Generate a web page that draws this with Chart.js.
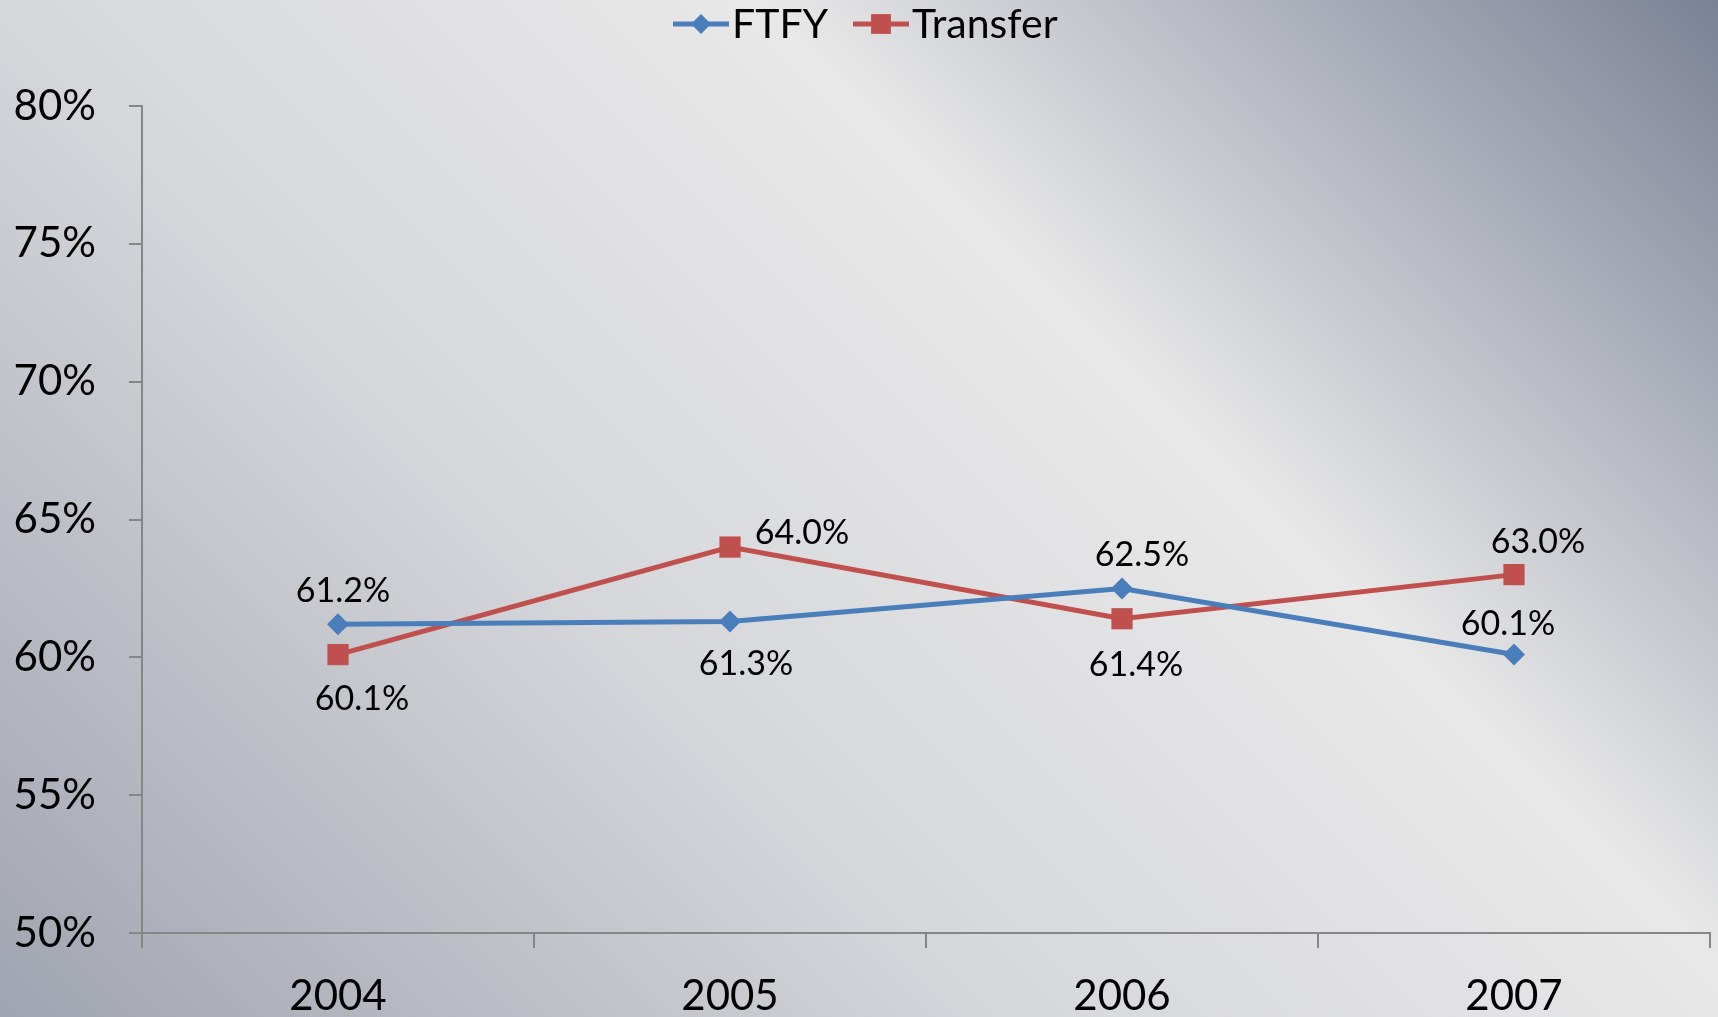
<!DOCTYPE html>
<html>
<head>
<meta charset="utf-8">
<script src="https://cdn.jsdelivr.net/npm/chart.js@4"></script>
<style>
  html, body { margin: 0; padding: 0; overflow: hidden; }
  #wrap { width: 1718px; height: 1017px; }
  canvas { display: block; }
</style>
</head>
<body>
<div id="wrap"><canvas id="chart"></canvas></div>
<script>
// chart data
var years = ['2004', '2005', '2006', '2007'];
var ftfyValues = [0.612, 0.613, 0.625, 0.601];
var transferValues = [0.601, 0.640, 0.614, 0.630];
var yTicks = [0.50, 0.55, 0.60, 0.65, 0.70, 0.75, 0.80];

var FONT = 'Lato, "Open Sans", sans-serif';
var BLUE = '#4a7ebb', RED = '#c0504d';

// label offsets (px) from each point, per series
var labelOffsets = [
  [[5, -33], [16, 43], [20, -33], [-6, -31]],
  [[24, 44], [72, -14], [14, 46], [24, -33]]
];

// gray office-style background
var bgPlugin = {
  id: 'bg',
  beforeDraw: function(chart){
    var ctx = chart.ctx, w = chart.width, h = chart.height;
    var g = ctx.createLinearGradient(0, h, 1367, -350);
    g.addColorStop(0, '#a0a4b0');
    g.addColorStop(0.37, '#d6d7db');
    g.addColorStop(0.65, '#e8e8e8');
    g.addColorStop(1, '#7b8296');
    ctx.save();
    ctx.fillStyle = g;
    ctx.fillRect(0, 0, w, h);
    ctx.restore();
  }
};

// value labels next to points
var labelPlugin = {
  id: 'vlabels',
  afterDatasetsDraw: function(chart){
    var ctx = chart.ctx;
    ctx.save();
    ctx.font = '34px ' + FONT;
    ctx.fillStyle = '#000';
    ctx.textAlign = 'center';
    ctx.textBaseline = 'middle';
    chart.data.datasets.forEach(function(ds, i){
      chart.getDatasetMeta(i).data.forEach(function(pt, j){
        var off = labelOffsets[i][j];
        ctx.fillText((ds.data[j]*100).toFixed(1) + '%', pt.x + off[0], pt.y + off[1]);
      });
    });
    ctx.restore();
  }
};

// legend with line + marker
var legendPlugin = {
  id: 'lineLegend',
  afterDraw: function(chart){
    var ctx = chart.ctx;
    var items = [
      {x: 673, color: BLUE, style: 'rectRot', r: 10, text: chart.data.datasets[0].label},
      {x: 853, color: RED, style: 'rect', r: 14, text: chart.data.datasets[1].label}
    ];
    var y = 24;
    ctx.save();
    ctx.font = '41px ' + FONT;
    ctx.textBaseline = 'middle';
    ctx.textAlign = 'left';
    items.forEach(function(it){
      ctx.strokeStyle = it.color;
      ctx.lineWidth = 5;
      ctx.beginPath();
      ctx.moveTo(it.x, y);
      ctx.lineTo(it.x + 56, y);
      ctx.stroke();
      ctx.fillStyle = it.color;
      Chart.helpers.drawPoint(ctx, {pointStyle: it.style, radius: it.r, borderWidth: 0}, it.x + 28, y);
      ctx.fillStyle = '#000';
      ctx.fillText(it.text, it.x + 59, y + 1);
    });
    ctx.restore();
  }
};

new Chart(document.getElementById('chart'), {
  type: 'line',
  data: {
    labels: years,
    datasets: [
      {label: 'FTFY', data: ftfyValues, borderColor: BLUE, backgroundColor: BLUE,
       borderWidth: 5, pointStyle: 'rectRot', pointRadius: 11, pointBorderWidth: 0, tension: 0},
      {label: 'Transfer', data: transferValues, borderColor: RED, backgroundColor: RED,
       borderWidth: 5, pointStyle: 'rect', pointRadius: 15, pointBorderWidth: 0, tension: 0}
    ]
  },
  options: {
    responsive: true,
    maintainAspectRatio: false,
    animation: false,
    layout: {autoPadding: false, padding: {top: 106, right: 8, left: 0, bottom: 0}},
    plugins: {legend: {display: false}, tooltip: {enabled: false}},
    scales: {
      x: {
        offset: true,
        grid: {offset: true, drawOnChartArea: false, drawTicks: true, tickLength: 15, color: '#868686', lineWidth: 2},
        border: {color: '#868686', width: 2},
        ticks: {font: {family: FONT, size: 42}, color: '#000', padding: 23},
        afterFit: function(s){ s.height = 84; s.paddingLeft = 0; s.paddingRight = 0; }
      },
      y: {
        min: 0.5, max: 0.8,
        afterBuildTicks: function(s){ s.ticks = yTicks.map(function(v){ return {value: v}; }); },
        grid: {drawOnChartArea: false, drawTicks: true, tickLength: 13, color: '#868686', lineWidth: 2},
        border: {color: '#868686', width: 2},
        ticks: {font: {family: FONT, size: 42}, color: '#000', padding: 33,
                callback: function(v){ return Math.round(v*100) + '%'; }},
        afterFit: function(s){ s.width = 142; }
      }
    }
  },
  plugins: [bgPlugin, labelPlugin, legendPlugin]
});
</script>
</body>
</html>
